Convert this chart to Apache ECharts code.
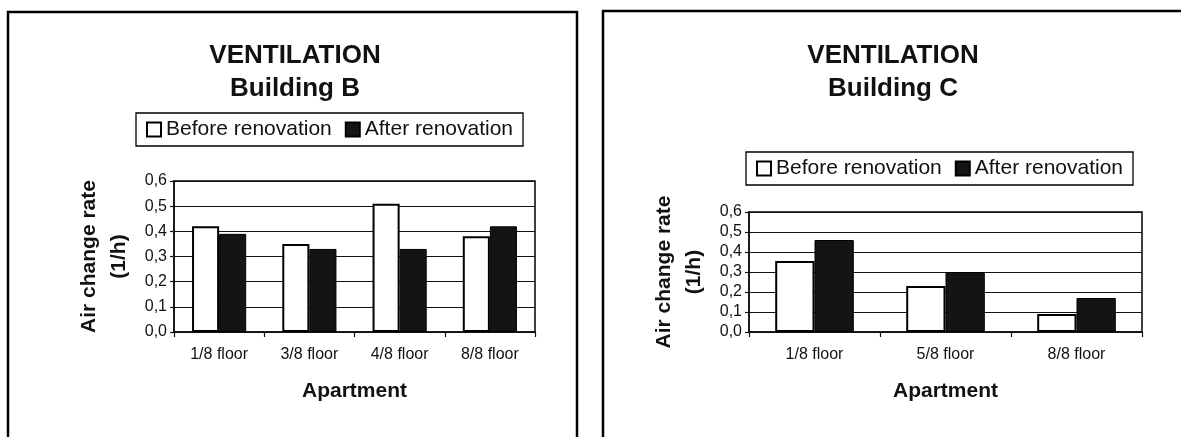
<!DOCTYPE html>
<html>
<head>
<meta charset="utf-8">
<script src="https://cdn.jsdelivr.net/npm/echarts@6/dist/echarts.min.js"></script>
<style>
  html, body { margin: 0; padding: 0; background: #fff; }
  #chart { width: 1181px; height: 437px; }
</style>
</head>
<body>
<div id="chart"></div>
<script>
// Building B
const floorsB = ['1/8 floor', '3/8 floor', '4/8 floor', '8/8 floor'];
const beforeB = [0.42, 0.35, 0.51, 0.38];
const afterB = [0.39, 0.33, 0.33, 0.42];

// Building C
const floorsC = ['1/8 floor', '5/8 floor', '8/8 floor'];
const beforeC = [0.355, 0.23, 0.09];
const afterC = [0.46, 0.30, 0.17];

const seriesNames = ['Before renovation', 'After renovation'];
const yTicks = { min: 0, max: 0.6, interval: 0.1 };

const FONT = "'Liberation Sans', Arial, sans-serif";
const INK = '#111';

const chart = echarts.init(document.getElementById('chart'), null, { renderer: 'canvas' });

function commaLabel(v) { return v.toFixed(1).replace('.', ','); }

function xAxisFor(gridIndex, cats) {
  return {
    type: 'category', gridIndex, data: cats,
    name: 'Apartment', nameLocation: 'middle', nameGap: 49,
    nameTextStyle: { fontFamily: FONT, fontSize: 21, fontWeight: 'bold', color: INK },
    axisLine: { lineStyle: { color: INK, width: 1.5 } },
    axisTick: { show: true, length: 5, lineStyle: { color: INK, width: 1.2 } },
    axisLabel: { fontFamily: FONT, fontSize: 16, color: INK, margin: 15 }
  };
}

function yAxisFor(gridIndex) {
  return {
    type: 'value', gridIndex,
    min: yTicks.min, max: yTicks.max, interval: yTicks.interval,
    name: 'Air change rate\n(1/h)', nameLocation: 'middle', nameRotate: 90, nameGap: 40,
    nameTextStyle: { fontFamily: FONT, fontSize: 21, fontWeight: 'bold', color: INK, lineHeight: 30, align: 'center' },
    axisLine: { show: true, lineStyle: { color: INK, width: 1.5 } },
    axisTick: { show: true, length: 4, lineStyle: { color: INK, width: 1.2 } },
    axisLabel: { fontFamily: FONT, fontSize: 16, color: INK, margin: 7, formatter: commaLabel },
    splitLine: { show: true, lineStyle: { color: INK, width: 1 } }
  };
}

function barSeries(name, data, idx, filled) {
  return {
    name, type: 'bar', data, xAxisIndex: idx, yAxisIndex: idx,
    barGap: '0%', barCategoryGap: '40%',
    itemStyle: filled
      ? { color: '#141414', borderColor: '#000', borderWidth: 1 }
      : { color: '#fff', borderColor: '#000', borderWidth: 2 },
    emphasis: { disabled: true }
  };
}

function legendFor(left, top) {
  return {
    left, top, orient: 'horizontal',
    data: seriesNames.map(n => ({ name: n, icon: 'rect' })),
    itemWidth: 14, itemHeight: 14, itemGap: 13,
    padding: [6, 10],
    borderColor: '#000', borderWidth: 1.3, backgroundColor: '#fff',
    textStyle: { fontFamily: FONT, fontSize: 21, color: INK },
    selectedMode: false
  };
}

function titleFor(text, cx) {
  return {
    text, left: cx, top: 39, textAlign: 'center', padding: 0,
    textStyle: { fontFamily: FONT, fontSize: 26, fontWeight: 'bold', color: INK, lineHeight: 33.5 }
  };
}

chart.setOption({
  animation: false,
  backgroundColor: '#fff',
  title: [titleFor('VENTILATION\nBuilding B', 295), titleFor('VENTILATION\nBuilding C', 893)],
  legend: [legendFor(136, 113), legendFor(746, 152)],
  grid: [
    { left: 174, top: 181, width: 361, height: 151, show: true, borderColor: '#000', borderWidth: 1.5, backgroundColor: '#fff', containLabel: false },
    { left: 749, top: 212, width: 393, height: 120, show: true, borderColor: '#000', borderWidth: 1.5, backgroundColor: '#fff', containLabel: false }
  ],
  xAxis: [xAxisFor(0, floorsB), xAxisFor(1, floorsC)],
  yAxis: [yAxisFor(0), yAxisFor(1)],
  series: [
    barSeries(seriesNames[0], beforeB, 0, false),
    barSeries(seriesNames[1], afterB, 0, true),
    barSeries(seriesNames[0], beforeC, 1, false),
    barSeries(seriesNames[1], afterC, 1, true)
  ],
  graphic: [
    { type: 'rect', shape: { x: 8, y: 12, width: 569, height: 440 }, style: { fill: 'none', stroke: '#000', lineWidth: 2.5 }, silent: true, z: 100 },
    { type: 'rect', shape: { x: 603, y: 11, width: 600, height: 440 }, style: { fill: 'none', stroke: '#000', lineWidth: 2.5 }, silent: true, z: 100 }
  ]
});
</script>
</body>
</html>
